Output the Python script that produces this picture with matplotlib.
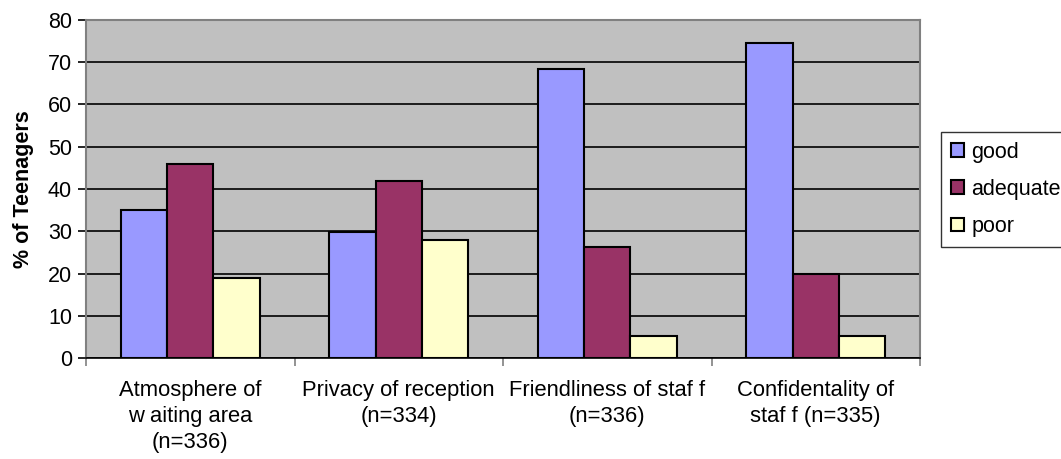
import numpy as np
import matplotlib
matplotlib.use('Agg')
import matplotlib.pyplot as plt

plt.rcParams['font.family'] = ['Liberation Sans', 'DejaVu Sans']

categories = ['Atmosphere of\nw aiting area\n(n=336)', 'Privacy of reception\n(n=334)',
              'Friendliness of staf f\n(n=336)', 'Confidentality of\nstaf f (n=335)']
series = ['good', 'adequate', 'poor']
good = [35, 29.8, 68.5, 74.6]
adequate = [45.8, 42, 26.3, 19.8]
poor = [18.9, 27.9, 5.2, 5.2]
colors = ['#9999ff', '#993366', '#ffffcc']

fig = plt.figure(figsize=(10.61, 4.59), dpi=100)
ax = fig.add_axes([86 / 1061, 1 - 358 / 459, (920 - 86) / 1061, (358 - 20) / 459])
ax.set_facecolor('#c0c0c0')

x = np.arange(len(categories))
w = 0.222
for i, (vals, name) in enumerate(zip([good, adequate, poor], series)):
    ax.bar(x + (i - 1) * w, vals, w, color=colors[i], edgecolor='black', linewidth=1.5,
           label=name, zorder=3)

ax.set_xlim(-0.5, 3.5)
ax.set_ylim(0, 80)
ax.set_yticks(range(0, 81, 10))
ax.yaxis.grid(True, color='black', linewidth=1.2, zorder=1)
ax.set_axisbelow(True)

ax.set_xticks(np.arange(-0.5, 3.6, 1.0))
ax.set_xticklabels([])
ax.set_xticks(x, minor=True)
ax.set_xticklabels(categories, minor=True, fontsize=15.8, linespacing=1.3)
ax.tick_params(axis='x', which='minor', length=0, pad=16)
ax.tick_params(axis='x', which='major', length=6, direction='out', color='#808080', width=1.2)
ax.tick_params(axis='y', length=6, direction='out', labelsize=15.5, width=1.2, pad=4)

for s in ['top', 'right']:
    ax.spines[s].set_color('#808080')
    ax.spines[s].set_linewidth(1.5)
ax.spines['left'].set_color('#808080')
ax.spines['left'].set_linewidth(1.5)
ax.spines['bottom'].set_color('black')
ax.spines['bottom'].set_linewidth(1.2)

ax.set_ylabel('% of Teenagers', fontsize=15.5, fontweight='bold', labelpad=10)

leg = fig.legend(loc='upper left', bbox_to_anchor=(941 / 1061, 1 - 132 / 459), fontsize=15.5,
                 frameon=True, fancybox=False, edgecolor='black', handlelength=0.6,
                 handleheight=0.6, handletextpad=0.35, labelspacing=0.75, borderpad=0.45,
                 borderaxespad=0)
leg.get_frame().set_linewidth(1.0)

fig.savefig('out.png', dpi=100)
